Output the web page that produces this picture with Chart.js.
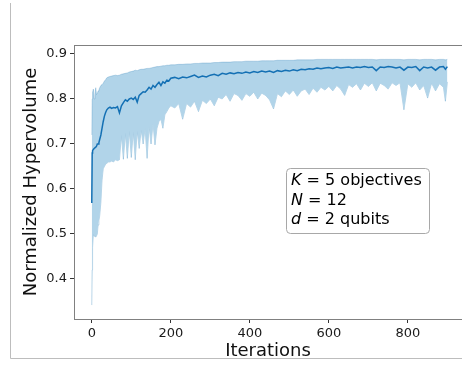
<!DOCTYPE html>
<html lang="en">
<head>
<meta charset="UTF-8">
<title>Normalized Hypervolume vs Iterations</title>
<script src="https://cdn.jsdelivr.net/npm/chart.js@4.4.1/dist/chart.umd.min.js"></script>
<style>
*{margin:0;padding:0}
html,body{width:462px;height:367px;overflow:hidden;background:#fff}
canvas{display:block}
</style>
</head>
<body>
<canvas id="hv" width="462" height="367"></canvas>
<script>
// sampled iterations (denser at the start where the curve moves fast)
const iterations = [
  0, 1, 2, 4, 6, 8, 10, 12, 14, 16, 18, 20, 23, 26, 29, 32, 35, 38, 42, 46, 50,
  55, 60, 65, 70, 75, 80, 85, 90, 95, 100, 105, 110, 115, 120, 125, 130, 135, 140,
  145, 150, 155, 160, 165, 170, 175, 180, 185, 190, 195, 200,
  210, 220, 230, 240, 250, 260, 270, 280, 290, 300, 310, 320, 330, 340, 350, 360,
  370, 380, 390, 400, 410, 420, 430, 440, 450, 460, 470, 480, 490, 500, 510, 520,
  530, 540, 550, 560, 570, 580, 590, 600, 610, 620, 630, 640, 650, 660, 670, 680,
  690, 700, 710, 720, 730, 740, 750, 760, 770, 780, 790, 800, 810, 820, 830, 840,
  850, 860, 870, 880, 890, 895, 900
];
const meanHV = [
  0.569, 0.680, 0.685, 0.688, 0.690, 0.690, 0.693, 0.695, 0.700, 0.700, 0.703, 0.710, 0.720, 0.735, 0.750, 0.762, 0.770, 0.776, 0.780, 0.782, 0.779,
  0.781, 0.780, 0.783, 0.769, 0.785, 0.792, 0.798, 0.795, 0.800, 0.802, 0.799, 0.804, 0.793, 0.808, 0.812, 0.816, 0.815, 0.820,
  0.826, 0.822, 0.830, 0.826, 0.832, 0.837, 0.830, 0.838, 0.835, 0.842, 0.840, 0.846,
  0.848, 0.845, 0.849, 0.847, 0.850, 0.853, 0.848, 0.851, 0.849, 0.853, 0.855, 0.852, 0.857, 0.855, 0.858, 0.856,
  0.859, 0.857, 0.860, 0.858, 0.861, 0.859, 0.862, 0.860, 0.862, 0.859, 0.863, 0.861, 0.864, 0.862, 0.865, 0.863,
  0.866, 0.865, 0.867, 0.866, 0.869, 0.867, 0.869, 0.870, 0.868, 0.871, 0.869, 0.870, 0.871, 0.869, 0.871, 0.870,
  0.872, 0.870, 0.871, 0.863, 0.871, 0.870, 0.872, 0.871, 0.869, 0.871, 0.864, 0.871, 0.870, 0.872, 0.863, 0.871,
  0.869, 0.871, 0.864, 0.871, 0.872, 0.866, 0.872
];
const upperHV = [
  0.720, 0.800, 0.815, 0.822, 0.800, 0.810, 0.825, 0.810, 0.812, 0.818, 0.820, 0.825, 0.830, 0.832, 0.835, 0.840, 0.843, 0.847, 0.849, 0.850, 0.851,
  0.852, 0.853, 0.852, 0.853, 0.855, 0.856, 0.857, 0.858, 0.860, 0.861, 0.862, 0.864, 0.863, 0.865, 0.866, 0.866, 0.867, 0.868,
  0.868, 0.869, 0.870, 0.871, 0.872, 0.872, 0.873, 0.874, 0.874, 0.875, 0.875, 0.876,
  0.876, 0.877, 0.877, 0.878, 0.878, 0.879, 0.879, 0.880, 0.880, 0.880, 0.881, 0.881, 0.882, 0.882, 0.882, 0.883,
  0.883, 0.883, 0.884, 0.884, 0.884, 0.884, 0.885, 0.885, 0.885, 0.885, 0.886, 0.886, 0.886, 0.886, 0.886, 0.887,
  0.887, 0.887, 0.887, 0.887, 0.888, 0.888, 0.888, 0.888, 0.888, 0.888, 0.888, 0.888, 0.888, 0.888, 0.888, 0.888,
  0.888, 0.888, 0.888, 0.887, 0.888, 0.888, 0.888, 0.888, 0.888, 0.888, 0.887, 0.888, 0.888, 0.888, 0.887, 0.888,
  0.888, 0.888, 0.887, 0.888, 0.888, 0.887, 0.888
];
const lowerHV = [
  0.342, 0.420, 0.470, 0.500, 0.495, 0.500, 0.493, 0.496, 0.500, 0.520, 0.530, 0.540, 0.570, 0.620, 0.645, 0.650, 0.655, 0.657, 0.660, 0.660, 0.662,
  0.660, 0.665, 0.663, 0.665, 0.720, 0.666, 0.725, 0.668, 0.730, 0.670, 0.728, 0.665, 0.730, 0.690, 0.732, 0.700, 0.735, 0.668,
  0.740, 0.700, 0.745, 0.698, 0.735, 0.750, 0.755, 0.735, 0.765, 0.772, 0.780, 0.785,
  0.780, 0.790, 0.755, 0.790, 0.782, 0.795, 0.772, 0.797, 0.790, 0.800, 0.785, 0.804, 0.800, 0.810, 0.795, 0.812,
  0.808, 0.797, 0.812, 0.806, 0.815, 0.800, 0.813, 0.808, 0.798, 0.778, 0.812, 0.805, 0.818, 0.810, 0.820, 0.806,
  0.818, 0.822, 0.810, 0.824, 0.815, 0.826, 0.820, 0.828, 0.818, 0.830, 0.822, 0.808, 0.832, 0.826, 0.834, 0.820,
  0.835, 0.828, 0.836, 0.818, 0.835, 0.830, 0.822, 0.836, 0.830, 0.836, 0.776, 0.834, 0.826, 0.836, 0.820, 0.830,
  0.802, 0.835, 0.818, 0.834, 0.826, 0.795, 0.838
];
const xTicks = [0, 200, 400, 600, 800];
const yTicks = [0.4, 0.5, 0.6, 0.7, 0.8, 0.9];
const infoLines = [['K', ' = 5 objectives'], ['N', ' = 12'], ['d', ' = 2 qubits']];

const FONT = "'DejaVu Sans', sans-serif";
const lineBlue = '#1470b4';
const bandBlue = '#b1d4e9';
const spine = '#808080';
const pts = ys => iterations.map((x, i) => ({ x, y: ys[i] }));

Chart.defaults.font.family = FONT;
Chart.defaults.color = '#1a1a1a';

// outer figure frame and the annotation box
const decor = {
  id: 'decor',
  beforeDraw(chart) {
    const c = chart.ctx;
    c.save();
    c.strokeStyle = '#bdbdbd';
    c.lineWidth = 1;
    c.beginPath();
    c.moveTo(10.5, 3);
    c.lineTo(10.5, 358.5);
    c.lineTo(462, 358.5);
    c.stroke();
    c.restore();
  },
  afterDraw(chart) {
    const c = chart.ctx;
    c.save();
    c.beginPath();
    c.roundRect(286.5, 168.5, 143, 65, 4);
    c.fillStyle = 'rgba(255,255,255,0.8)';
    c.fill();
    c.lineWidth = 1;
    c.strokeStyle = '#a8a8a8';
    c.stroke();

    c.fillStyle = '#000';
    c.textBaseline = 'middle';
    infoLines.forEach(([sym, rest], i) => {
      const y = 181 + i * 19.5;
      c.font = 'italic 16px ' + FONT;
      c.fillText(sym, 291, y);
      const w = c.measureText(sym).width;
      c.font = '16px ' + FONT;
      c.fillText(rest, 291 + w, y);
    });
    c.restore();
  }
};

new Chart(document.getElementById('hv'), {
  type: 'line',
  data: {
    datasets: [{
      label: 'mean',
      data: pts(meanHV),
      borderColor: lineBlue,
      borderWidth: 1.5,
      pointRadius: 0,
      fill: false,
      tension: 0
    }, {
      label: 'upper',
      data: pts(upperHV),
      borderColor: 'rgba(31,119,180,0.25)',
      borderWidth: 1,
      backgroundColor: bandBlue,
      pointRadius: 0,
      fill: '+1',
      tension: 0
    }, {
      label: 'lower',
      data: pts(lowerHV),
      borderColor: 'rgba(31,119,180,0.3)',
      borderWidth: 1,
      pointRadius: 0,
      fill: false,
      tension: 0
    }]
  },
  options: {
    responsive: false,
    animation: false,
    layout: { padding: { top: 45, left: 0, right: 0, bottom: 0 } },
    plugins: { legend: { display: false }, tooltip: { enabled: false } },
    scales: {
      x: {
        type: 'linear',
        min: -45,
        max: 937,
        afterBuildTicks: s => { s.ticks = xTicks.map(v => ({ value: v })); },
        afterFit: s => { s.height = 48; },
        ticks: { font: { size: 13 }, padding: 3, maxRotation: 0, callback: v => String(v) },
        grid: { drawOnChartArea: false, tickLength: 4, tickColor: '#333' },
        border: { color: spine, width: 1 },
        title: { display: true, text: 'Iterations', font: { size: 18 }, color: '#111', padding: { top: 0, bottom: 5 } }
      },
      // top spine only
      xTop: {
        type: 'linear',
        position: 'top',
        min: -45,
        max: 937,
        afterFit: s => { s.height = 0; },
        ticks: { display: false },
        grid: { drawOnChartArea: false, drawTicks: false },
        border: { color: spine, width: 1 }
      },
      y: {
        type: 'linear',
        min: 0.311,
        max: 0.92,
        afterBuildTicks: s => { s.ticks = yTicks.map(v => ({ value: v })); },
        afterFit: s => { s.width = 74; },
        ticks: { font: { size: 13 }, padding: 3, callback: v => v.toFixed(1) },
        grid: { drawOnChartArea: false, tickLength: 4, tickColor: '#333' },
        border: { color: spine, width: 1 },
        title: { display: true, text: 'Normalized Hypervolume', font: { size: 18 }, color: '#111', padding: { top: 21, bottom: 0 } }
      }
    }
  },
  plugins: [decor]
});
</script>
</body>
</html>
